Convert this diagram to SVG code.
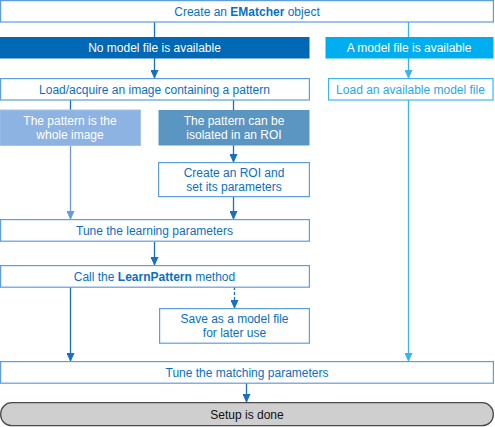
<svg xmlns="http://www.w3.org/2000/svg" width="495" height="427" viewBox="0 0 495 427">
<defs>
<style>
text{font-family:"Liberation Sans",Arial,sans-serif;font-size:12px;text-anchor:middle;fill:#0a6fc2}
.w{fill:#ffffff}
.box{fill:#ffffff;stroke:#5d9fdb;stroke-width:1.2}
.lbox{fill:#ffffff;stroke:#3db7ee;stroke-width:1.2}
.c{fill:none;stroke:#1a6fc0;stroke-width:1.3}
.cl{fill:none;stroke:#3ab6ee;stroke-width:1.3}
.cp{fill:none;stroke:#6b9ad6;stroke-width:1.3}
.lb{fill:#27a9e6}
b{font-weight:bold}
</style>
<marker id="a" markerWidth="8" markerHeight="8" refX="4" refY="7" orient="auto" markerUnits="userSpaceOnUse" viewBox="0 0 8 8"><path d="M0,0 L8,0 L4,7 Z" fill="#1a6fc0" transform="rotate(-90 4 4)"/></marker>
<marker id="ad" markerWidth="9" markerHeight="8" refX="8" refY="4" orient="auto" markerUnits="userSpaceOnUse" viewBox="0 0 9 8"><path d="M0,0 L9,4 L0,8 Z" fill="#1a6fc0"/></marker>
<marker id="al" markerWidth="9" markerHeight="8" refX="8" refY="4" orient="auto" markerUnits="userSpaceOnUse" viewBox="0 0 9 8"><path d="M0,0 L9,4 L0,8 Z" fill="#3ab6ee"/></marker>
<marker id="ap" markerWidth="9" markerHeight="8" refX="8" refY="4" orient="auto" markerUnits="userSpaceOnUse" viewBox="0 0 9 8"><path d="M0,0 L9,4 L0,8 Z" fill="#6b9ad6"/></marker>
</defs>

<g id="connectors">
<line class="c" x1="154.5" y1="22" x2="154.5" y2="37"/>
<line class="cl" x1="408.5" y1="22" x2="408.5" y2="37"/>
<line class="c" x1="154.5" y1="58" x2="154.5" y2="78" marker-end="url(#ad)"/>
<line class="cl" x1="408.5" y1="58" x2="408.5" y2="78" marker-end="url(#al)"/>
<line class="c" x1="70.5" y1="100" x2="70.5" y2="110"/>
<line class="c" x1="233.5" y1="100" x2="233.5" y2="110"/>
<line class="c" x1="233.5" y1="145" x2="233.5" y2="162" marker-end="url(#ad)"/>
<line class="cp" x1="70.5" y1="145" x2="70.5" y2="219" marker-end="url(#ap)"/>
<line class="c" x1="233.5" y1="197" x2="233.5" y2="219" marker-end="url(#ad)"/>
<line class="c" x1="154.5" y1="242" x2="154.5" y2="265" marker-end="url(#ad)"/>
<line class="c" x1="234.5" y1="287" x2="234.5" y2="308" stroke-dasharray="3,2" marker-end="url(#ad)"/>
<line class="c" x1="70.5" y1="287" x2="70.5" y2="361" marker-end="url(#ad)"/>
<line class="cl" x1="408.5" y1="100" x2="408.5" y2="361" marker-end="url(#al)"/>
<line class="c" x1="246.5" y1="383" x2="246.5" y2="402" marker-end="url(#ad)"/>
</g>

<g id="create">
<rect class="box" x="0.6" y="0.6" width="492.8" height="21.4"/>
<text x="247" y="15.5">Create an <tspan font-weight="bold">EMatcher</tspan> object</text>
</g>
<g id="nomodel">
<rect x="0" y="37" width="309.5" height="21.5" fill="#0068b5"/>
<text class="w" x="154.5" y="52">No model file is available</text>
</g>
<g id="model">
<rect x="325.5" y="37" width="168" height="21.5" fill="#00aeef"/>
<text class="w" x="409" y="52">A model file is available</text>
</g>
<g id="loadacquire">
<rect class="box" x="0.6" y="78.6" width="308.8" height="21.4"/>
<text x="154.5" y="93.5">Load/acquire an image containing a pattern</text>
</g>
<g id="loadmodel">
<rect class="lbox" x="328.6" y="78.6" width="164.4" height="21.4"/>
<text x="410.5" y="93.5" fill="#29a8e6" style="fill:#29a8e6">Load an available model file</text>
</g>
<g id="whole">
<rect x="0" y="110" width="140.5" height="35.5" fill="#8db3e2" stroke="#a4c3ea" stroke-width="1"/>
<text class="w" x="70" y="124.5">The pattern is the</text>
<text class="w" x="70" y="139">whole image</text>
</g>
<g id="isolated">
<rect x="158.5" y="110" width="151" height="35.5" fill="#5b95c1"/>
<text class="w" x="234" y="124.5">The pattern can be</text>
<text class="w" x="234" y="139">isolated in an ROI</text>
</g>
<g id="roi">
<rect class="box" x="158.6" y="162.6" width="150.8" height="34"/>
<text x="234" y="176.5">Create an ROI and</text>
<text x="234" y="191">set its parameters</text>
</g>
<g id="tunelearn">
<rect class="box" x="0.6" y="219.6" width="308.8" height="21.6"/>
<text x="154.5" y="234.5">Tune the learning parameters</text>
</g>
<g id="learn">
<rect class="box" x="0.6" y="265.6" width="308.8" height="21.6"/>
<text x="154.5" y="280.5">Call the <tspan font-weight="bold">LearnPattern</tspan> method</text>
</g>
<g id="save">
<rect class="box" x="159.6" y="308.6" width="149.8" height="34.6"/>
<text x="234.5" y="322.5">Save as a model file</text>
<text x="234.5" y="337">for later use</text>
</g>
<g id="tunematch">
<rect class="box" x="0.6" y="361.6" width="492.8" height="21.6"/>
<text x="247" y="376.5">Tune the matching parameters</text>
</g>
<g id="done">
<rect x="0.7" y="402.7" width="492.6" height="23" rx="11" ry="11" fill="#cfcfcf" stroke="#4a4a4a" stroke-width="1.3"/>
<text x="247" y="418.5" style="fill:#111111">Setup is done</text>
</g>
</svg>
